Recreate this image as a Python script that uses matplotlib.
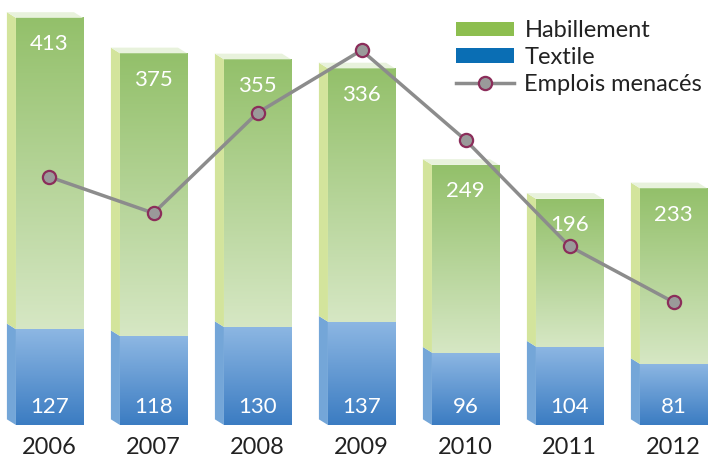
import matplotlib
matplotlib.use('Agg')
import matplotlib.pyplot as plt
import numpy as np
from matplotlib.patches import Polygon, Patch
from matplotlib.lines import Line2D
from matplotlib.colors import LinearSegmentedColormap

plt.rcParams['font.family'] = ['Lato', 'DejaVu Sans']

years = ['2006', '2007', '2008', '2009', '2010', '2011', '2012']
textile = [127, 118, 130, 137, 96, 104, 81]
habillement = [413, 375, 355, 336, 249, 196, 233]
emplois = [329, 281, 414, 497, 378, 237, 163]

fig = plt.figure(figsize=(7.08, 4.59), dpi=100)
ax = fig.add_axes([0, 0, 1, 1])
ax.axis('off')

green_cm = LinearSegmentedColormap.from_list('g', ['#d6e7c4', '#93c06a'])
blue_cm = LinearSegmentedColormap.from_list('b', ['#3b7cc2', '#8db7e3'])
grad = np.linspace(0, 1, 256).reshape(-1, 1)

w = 0.645
dx, dy = -0.087, 7.5
x = np.arange(len(years))

for i in range(len(years)):
    x0, x1 = x[i] - w / 2, x[i] + w / 2
    b = textile[i]
    top = b + habillement[i]
    # front faces
    ax.imshow(grad, extent=[x0, x1, 0, b], origin='lower', aspect='auto',
              cmap=blue_cm, zorder=2)
    ax.imshow(grad, extent=[x0, x1, b, top], origin='lower', aspect='auto',
              cmap=green_cm, zorder=2)
    # side faces
    ax.add_patch(Polygon([(x0, 0), (x0 + dx, dy), (x0 + dx, b + dy), (x0, b)],
                         closed=True, fc='#74a6d8', ec='none', zorder=2))
    ax.add_patch(Polygon([(x0, b), (x0 + dx, b + dy), (x0 + dx, top + dy), (x0, top)],
                         closed=True, fc='#d3e49c', ec='none', zorder=2))
    # top face
    ax.add_patch(Polygon([(x0, top), (x0 + dx, top + dy), (x1 + dx, top + dy), (x1, top)],
                         closed=True, fc='#e8f2dc', ec='none', zorder=2))
    ax.text(x[i], top - 35, str(habillement[i]), color='white', fontsize=16,
            ha='center', va='center', zorder=4)
    ax.text(x[i], 24, str(textile[i]), color='white', fontsize=16,
            ha='center', va='center', zorder=4)
    ax.text(x[i], -30, years[i], color='#222222', fontsize=17,
            ha='center', va='center', zorder=4)

ax.plot(x, emplois, color='#8c8c8c', lw=2.5, marker='o', ms=9.5,
        mfc='#9a9a9a', mec='#8b2d5a', mew=1.6, zorder=5)

handles = [Patch(fc='#8dbe4f', ec='none'), Patch(fc='#0a6eb4', ec='none'),
           Line2D([], [], color='#8c8c8c', lw=2.5, marker='o', ms=9.5,
                  mfc='#9a9a9a', mec='#8b2d5a', mew=1.6)]
labels = ['Habillement', 'Textile', 'Emplois menacés']
leg = ax.legend(handles, labels, loc='upper left', bbox_to_anchor=(456 / 708, 1 - 20 / 459),
                frameon=False, fontsize=17, handlelength=2.45, handleheight=0.55,
                labelspacing=0.25, handletextpad=0.45, borderpad=0, borderaxespad=0)
for t in leg.get_texts():
    t.set_color('#222222')

ax.set_xlim(-49.5 / 104, (708 - 49.5) / 104)
ax.set_ylim(-(459 - 425) / 0.754, 425 / 0.754)

fig.savefig('out.png', dpi=100)
